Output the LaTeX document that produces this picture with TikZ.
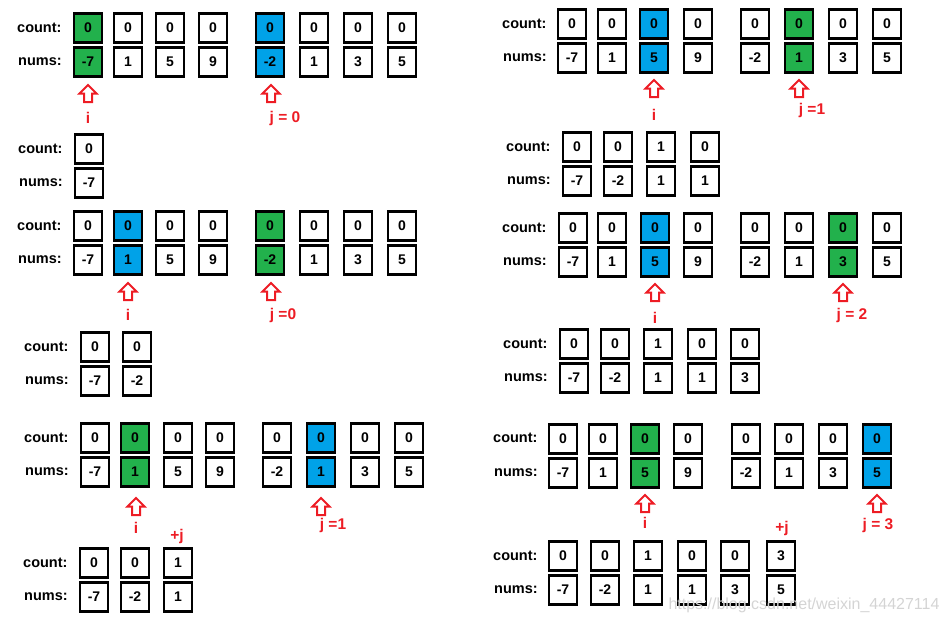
\documentclass[tikz,border=0pt]{standalone}
\usepackage{fontspec}
\setmainfont{Liberation Sans}
\definecolor{gr}{HTML}{22B14C}
\definecolor{bl}{HTML}{00A2E8}
\definecolor{rd}{HTML}{ED1C24}
\definecolor{wm}{HTML}{D4D4D4}
\tikzset{
  cellbox/.style={draw=black,line width=2.8pt,minimum width=28pt,minimum height=28.5pt,inner sep=0pt,font=\fontsize{14}{15}\selectfont\bfseries},
  lab/.style={anchor=west,inner sep=0pt,font=\fontsize{14.5}{16}\selectfont\bfseries},
  redlab/.style={inner sep=0pt,text=rd,font=\fontsize{15.5}{17}\selectfont\bfseries},
  uparrow/.pic={\draw[rd,line width=2pt,line join=miter] (0,0) -- (8.5,8.5) -- (4,8.5) -- (4,17) -- (-4,17) -- (-4,8.5) -- (-8.5,8.5) -- cycle;}
}
\newcommand\cellcol[6]{% name, x, yc, count value, nums value, fill
  \node[cellbox,fill=#6] (#1-c) at (#2,#3) {#4};
  \node[cellbox,fill=#6] (#1-n) at (#2,#3+34) {#5};
}
\begin{document}
\begin{tikzpicture}[x=1pt,y=-1pt]
\useasboundingbox (0,0) rectangle (950,624);
% ---------- Panel A (top-left)
\node[lab] (Alc) at (17,28) {count:};
\node[lab] (Aln) at (18,62) {nums:};
\foreach \x/\c/\n/\f [count=\k] in {88/0/-7/gr,128/0/1/white,170/0/5/white,213/0/9/white,270/0/-2/bl,314/0/1/white,358/0/3/white,402/0/5/white}
  {\cellcol{A\k}{\x}{28}{\c}{\n}{\f}}
\pic (Aai) at (88,85) {uparrow};
\node[redlab] (Ai) at (88,118) {i};
\pic (Aaj) at (271,85) {uparrow};
\node[redlab] (Aj) at (285,118) {j = 0};
% sub A
\node[lab] (alc) at (18,149) {count:};
\node[lab] (aln) at (19,183) {nums:};
\foreach \x/\c/\n [count=\k] in {89/0/-7}
  {\cellcol{a\k}{\x}{149}{\c}{\n}{white}}
% ---------- Panel B (top-right)
\node[lab] (Blc) at (502,24) {count:};
\node[lab] (Bln) at (503,58) {nums:};
\foreach \x/\c/\n/\f [count=\k] in {572/0/-7/white,612/0/1/white,654/0/5/bl,698/0/9/white,755/0/-2/white,799/0/1/gr,843/0/3/white,887/0/5/white}
  {\cellcol{B\k}{\x}{24}{\c}{\n}{\f}}
\pic (Bai) at (654,80) {uparrow};
\node[redlab] (Bi) at (654,115) {i};
\pic (Baj) at (799,80) {uparrow};
\node[redlab] (Bj) at (812,110) {j =1};
% sub B
\node[lab] (blc) at (506,147) {count:};
\node[lab] (bln) at (507,181) {nums:};
\foreach \x/\c/\n [count=\k] in {577/0/-7,618/0/-2,661/1/1,705/0/1}
  {\cellcol{b\k}{\x}{147}{\c}{\n}{white}}
% ---------- Panel C (middle-left)
\node[lab] (Clc) at (17,226) {count:};
\node[lab] (Cln) at (18,260) {nums:};
\foreach \x/\c/\n/\f [count=\k] in {88/0/-7/white,128/0/1/bl,170/0/5/white,213/0/9/white,270/0/-2/gr,314/0/1/white,358/0/3/white,402/0/5/white}
  {\cellcol{C\k}{\x}{226}{\c}{\n}{\f}}
\pic (Cai) at (128,283) {uparrow};
\node[redlab] (Ci) at (128,315) {i};
\pic (Caj) at (271,283) {uparrow};
\node[redlab] (Cj) at (283,315) {j =0};
% sub C
\node[lab] (clc) at (24,347) {count:};
\node[lab] (cln) at (25,381) {nums:};
\foreach \x/\c/\n [count=\k] in {95/0/-7,137/0/-2}
  {\cellcol{c\k}{\x}{347}{\c}{\n}{white}}
% ---------- Panel D (middle-right)
\node[lab] (Dlc) at (502,228) {count:};
\node[lab] (Dln) at (503,262) {nums:};
\foreach \x/\c/\n/\f [count=\k] in {573/0/-7/white,612/0/1/white,655/0/5/bl,698/0/9/white,755/0/-2/white,799/0/1/white,843/0/3/gr,887/0/5/white}
  {\cellcol{D\k}{\x}{228}{\c}{\n}{\f}}
\pic (Dai) at (655,284) {uparrow};
\node[redlab] (Di) at (655,318) {i};
\pic (Daj) at (843,284) {uparrow};
\node[redlab] (Dj) at (852,315) {j = 2};
% sub D
\node[lab] (dlc) at (503,344) {count:};
\node[lab] (dln) at (504,378) {nums:};
\foreach \x/\c/\n [count=\k] in {574/0/-7,615/0/-2,658/1/1,702/0/1,745/0/3}
  {\cellcol{d\k}{\x}{344}{\c}{\n}{white}}
% ---------- Panel E (bottom-left)
\node[lab] (Elc) at (24,438) {count:};
\node[lab] (Eln) at (25,472) {nums:};
\foreach \x/\c/\n/\f [count=\k] in {95/0/-7/white,135/0/1/gr,178/0/5/white,220/0/9/white,277/0/-2/white,321/0/1/bl,365/0/3/white,409/0/5/white}
  {\cellcol{E\k}{\x}{438}{\c}{\n}{\f}}
\pic (Eai) at (136,498) {uparrow};
\node[redlab] (Ei) at (136,528) {i};
\pic (Eaj) at (321,498) {uparrow};
\node[redlab] (Ej) at (333,525) {j =1};
\node[redlab] (Epj) at (177,536) {+j};
% sub E
\node[lab] (elc) at (23,563) {count:};
\node[lab] (eln) at (24,597) {nums:};
\foreach \x/\c/\n [count=\k] in {94/0/-7,135/0/-2,178/1/1}
  {\cellcol{e\k}{\x}{563}{\c}{\n}{white}}
% ---------- Panel F (bottom-right)
\node[lab] (Flc) at (493,438) {count:};
\node[lab] (Fln) at (494,473) {nums:};
\foreach \x/\c/\n/\f [count=\k] in {563/0/-7/white,603/0/1/white,645/0/5/gr,688/0/9/white,746/0/-2/white,789/0/1/white,833/0/3/white,877/0/5/bl}
  {\cellcol{F\k}{\x}{439}{\c}{\n}{\f}}
\pic (Fai) at (645,495) {uparrow};
\node[redlab] (Fi) at (645,523) {i};
\pic (Faj) at (877,495) {uparrow};
\node[redlab] (Fj) at (878,525) {j = 3};
\node[redlab] (Fpj) at (782,528) {+j};
% sub F
\node[lab] (flc) at (493,556) {count:};
\node[lab] (fln) at (494,590) {nums:};
\foreach \x/\c/\n [count=\k] in {563/0/-7,605/0/-2,648/1/1,692/0/1,735/0/3,781/3/5}
  {\cellcol{f\k}{\x}{556}{\c}{\n}{white}}
% watermark
\node[inner sep=0pt,text=wm,font=\fontsize{16}{18}\selectfont] (wmk) at (804,605) {https://blog.csdn.net/weixin\_44427114};
\end{tikzpicture}
\end{document}
